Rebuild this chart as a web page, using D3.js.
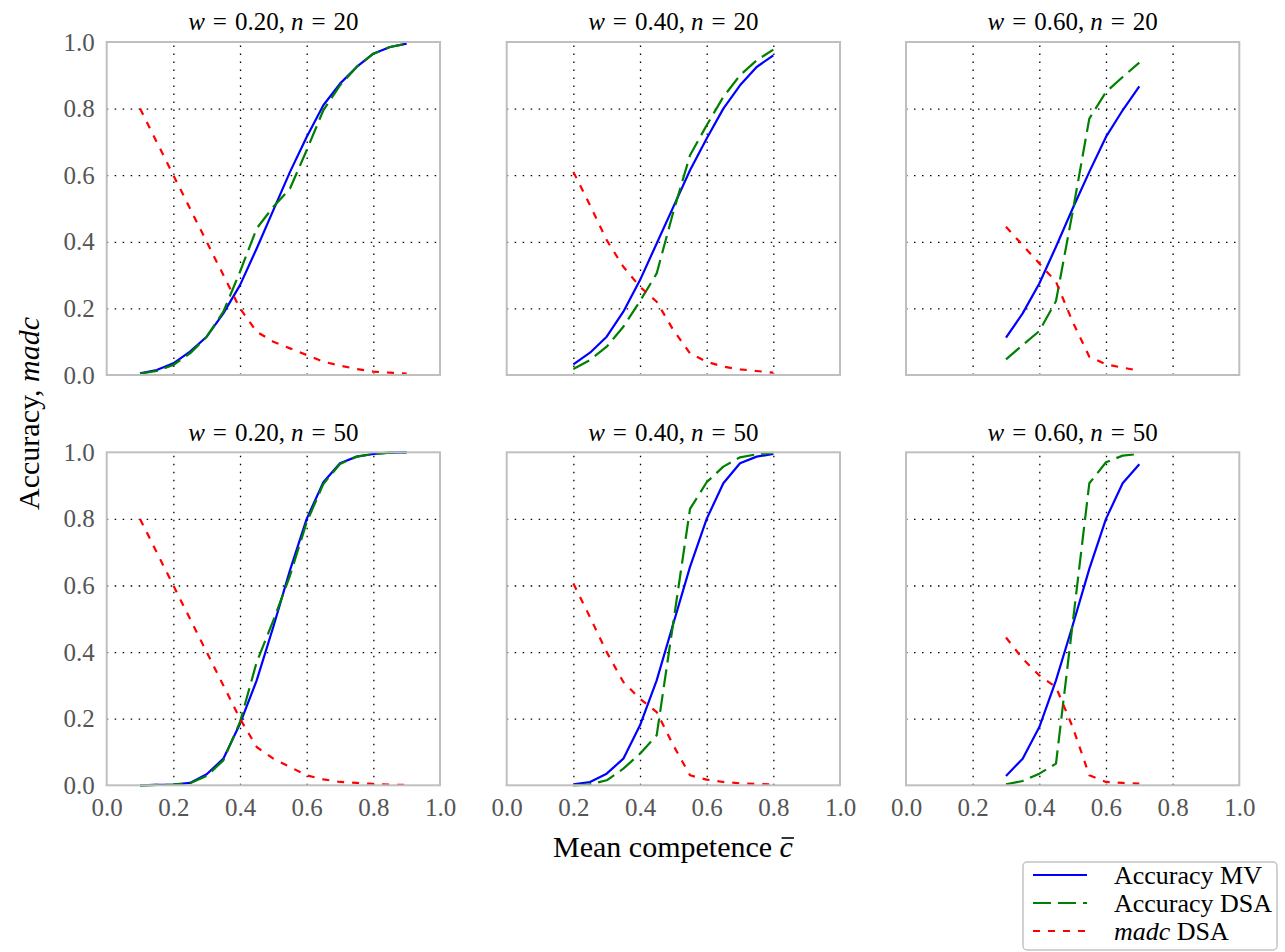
<!DOCTYPE html>
<html>
<head>
<meta charset="utf-8">
<script src="https://cdn.jsdelivr.net/npm/d3@7"></script>
<style>
  body { margin: 0; background: #fff; }
  svg { display: block; }
  text { font-family: "Liberation Serif", "Times New Roman", Times, serif; }
</style>
</head>
<body>
<svg id="fig" width="1285" height="952"></svg>
<script>
// ---- competence grids (mean competence c̄) ----
const cW20 = [0.10, 0.15, 0.20, 0.25, 0.30, 0.35, 0.40, 0.45, 0.50, 0.55, 0.60, 0.65, 0.70, 0.75, 0.80, 0.85, 0.90];
const cW40 = [0.20, 0.25, 0.30, 0.35, 0.40, 0.45, 0.50, 0.55, 0.60, 0.65, 0.70, 0.75, 0.80];
const cW60 = [0.30, 0.35, 0.40, 0.45, 0.50, 0.55, 0.60, 0.65, 0.70];

// ---- n = 20 ----
const mvW20N20   = [0.005, 0.015, 0.035, 0.070, 0.115, 0.185, 0.270, 0.380, 0.495, 0.610, 0.715, 0.810, 0.875, 0.925, 0.965, 0.985, 0.995];
const dsaW20N20  = [0.004, 0.012, 0.030, 0.065, 0.115, 0.190, 0.310, 0.440, 0.505, 0.560, 0.675, 0.795, 0.870, 0.925, 0.965, 0.985, 0.995];
const madcW20N20 = [0.800, 0.700, 0.600, 0.500, 0.400, 0.300, 0.200, 0.130, 0.100, 0.080, 0.060, 0.040, 0.028, 0.018, 0.010, 0.007, 0.004];

const mvW40N20   = [0.032, 0.067, 0.115, 0.190, 0.285, 0.395, 0.505, 0.615, 0.710, 0.800, 0.870, 0.925, 0.960];
const dsaW40N20  = [0.018, 0.045, 0.085, 0.145, 0.222, 0.305, 0.490, 0.660, 0.750, 0.835, 0.900, 0.945, 0.977];
const madcW40N20 = [0.610, 0.510, 0.405, 0.325, 0.265, 0.220, 0.135, 0.065, 0.040, 0.025, 0.017, 0.012, 0.007];

const mvW60N20   = [0.112, 0.185, 0.275, 0.385, 0.500, 0.610, 0.715, 0.795, 0.867];
const dsaW60N20  = [0.047, 0.090, 0.132, 0.222, 0.490, 0.770, 0.850, 0.895, 0.938];
const madcW60N20 = [0.445, 0.390, 0.335, 0.280, 0.160, 0.055, 0.032, 0.022, 0.013];

// ---- n = 50 ----
const mvW20N50   = [0.000, 0.001, 0.002, 0.007, 0.033, 0.080, 0.185, 0.315, 0.476, 0.646, 0.800, 0.910, 0.967, 0.987, 0.995, 0.999, 1.000];
const dsaW20N50  = [0.000, 0.001, 0.002, 0.006, 0.028, 0.075, 0.190, 0.370, 0.495, 0.630, 0.790, 0.905, 0.965, 0.987, 0.995, 0.999, 1.000];
const madcW20N50 = [0.800, 0.700, 0.600, 0.500, 0.400, 0.300, 0.200, 0.115, 0.080, 0.055, 0.030, 0.018, 0.010, 0.007, 0.004, 0.002, 0.001];

const mvW40N50   = [0.003, 0.010, 0.035, 0.080, 0.180, 0.315, 0.486, 0.656, 0.800, 0.907, 0.967, 0.987, 0.995];
const dsaW40N50  = [0.000, 0.003, 0.015, 0.050, 0.095, 0.150, 0.490, 0.830, 0.910, 0.957, 0.985, 0.994, 0.998];
const madcW40N50 = [0.606, 0.505, 0.400, 0.310, 0.260, 0.220, 0.120, 0.030, 0.017, 0.010, 0.006, 0.004, 0.002];

const mvW60N50   = [0.028, 0.080, 0.175, 0.315, 0.480, 0.650, 0.800, 0.907, 0.964];
const dsaW60N50  = [0.003, 0.013, 0.035, 0.065, 0.486, 0.907, 0.970, 0.990, 0.995];
const madcW60N50 = [0.444, 0.380, 0.330, 0.295, 0.175, 0.030, 0.010, 0.007, 0.005];

// ---- axis ticks ----
const tickVals   = [0.0, 0.2, 0.4, 0.6, 0.8, 1.0];
const tickLabels = ["0.0", "0.2", "0.4", "0.6", "0.8", "1.0"];
const gridVals   = [0.2, 0.4, 0.6, 0.8];

// ---- series ----
const seriesKeys  = ["mv", "dsa", "madc"];
const seriesNames = ["Accuracy MV", "Accuracy DSA", "madc DSA"];

const panels = [
  { w: "0.20", n: "20", c: cW20, mv: mvW20N20, dsa: dsaW20N20, madc: madcW20N20 },
  { w: "0.40", n: "20", c: cW40, mv: mvW40N20, dsa: dsaW40N20, madc: madcW40N20 },
  { w: "0.60", n: "20", c: cW60, mv: mvW60N20, dsa: dsaW60N20, madc: madcW60N20 },
  { w: "0.20", n: "50", c: cW20, mv: mvW20N50, dsa: dsaW20N50, madc: madcW20N50 },
  { w: "0.40", n: "50", c: cW40, mv: mvW40N50, dsa: dsaW40N50, madc: madcW40N50 },
  { w: "0.60", n: "50", c: cW60, mv: mvW60N50, dsa: dsaW60N50, madc: madcW60N50 }
];

const style = {
  mv:   { color: "#0000ff", dash: null,   width: 2.2 },
  dsa:  { color: "#008000", dash: "18,7", width: 2.2 },
  madc: { color: "#ff0000", dash: "7,8",  width: 2.2 }
};

const svg = d3.select("#fig");

const colLeft = [106.7, 506.7, 906];
const rowTop  = [42, 452.3];
const pw = 333.3, ph = 333;
const tickFont = 25;

panels.forEach((p, i) => {
  const col = i % 3, row = Math.floor(i / 3);
  const x0 = colLeft[col], y0 = rowTop[row];
  const x = d3.scaleLinear().domain([0, 1]).range([x0, x0 + pw]);
  const y = d3.scaleLinear().domain([0, 1]).range([y0 + ph, y0]);

  const g = svg.append("g");

  // dotted grid
  const gx = g.append("g")
    .attr("transform", `translate(0,${y0 + ph})`)
    .call(d3.axisBottom(x).tickValues(gridVals).tickSize(-ph).tickFormat(""));
  const gy = g.append("g")
    .attr("transform", `translate(${x0},0)`)
    .call(d3.axisLeft(y).tickValues(gridVals).tickSize(-pw).tickFormat(""));
  [gx, gy].forEach(a => {
    a.select(".domain").remove();
    a.selectAll("line").attr("stroke", "#000").attr("stroke-width", 1.3)
      .attr("stroke-dasharray", "1.5,6.5");
  });

  // tick labels on the outer axes only
  if (col === 0) {
    const ay = g.append("g").attr("transform", `translate(${x0},0)`)
      .call(d3.axisLeft(y).tickValues(tickVals).tickSize(0).tickPadding(12)
        .tickFormat((d, k) => tickLabels[k]));
    ay.select(".domain").remove();
    ay.selectAll("text").attr("font-size", tickFont).attr("fill", "#555")
      .style("font-family", '"Liberation Serif", serif');
  }
  if (row === 1) {
    const ax = g.append("g").attr("transform", `translate(0,${y0 + ph})`)
      .call(d3.axisBottom(x).tickValues(tickVals).tickSize(0).tickPadding(13)
        .tickFormat((d, k) => tickLabels[k]));
    ax.select(".domain").remove();
    ax.selectAll("text").attr("font-size", tickFont).attr("fill", "#555")
      .style("font-family", '"Liberation Serif", serif');
  }

  // curves
  seriesKeys.forEach(k => {
    const pts = p.c.map((c, j) => [c, p[k][j]]);
    const line = d3.line().x(d => x(d[0])).y(d => y(d[1]));
    g.append("path")
      .attr("d", line(pts))
      .attr("fill", "none")
      .attr("stroke", style[k].color)
      .attr("stroke-width", style[k].width)
      .attr("stroke-dasharray", style[k].dash)
      .attr("stroke-linejoin", "round");
  });

  // frame
  g.append("rect")
    .attr("x", x0).attr("y", y0).attr("width", pw).attr("height", ph)
    .attr("fill", "none").attr("stroke", "#bfbfbf").attr("stroke-width", 2);

  // title: w = …, n = …
  const t = g.append("text")
    .attr("x", x0 + pw / 2).attr("y", row === 0 ? 30 : 440.5)
    .attr("text-anchor", "middle").attr("font-size", 25).attr("fill", "#000");
  t.append("tspan").attr("font-style", "italic").text("w");
  t.append("tspan").attr("dx", 8).text("=");
  t.append("tspan").attr("dx", 8).text(p.w + ",");
  t.append("tspan").attr("dx", 6).attr("font-style", "italic").text("n");
  t.append("tspan").attr("dx", 8).text("=");
  t.append("tspan").attr("dx", 8).text(p.n);
});

// y axis label
const yl = svg.append("text")
  .attr("transform", "translate(39,413.5) rotate(-90)")
  .attr("text-anchor", "middle").attr("font-size", 30).attr("fill", "#000");
yl.append("tspan").text("Accuracy, ");
yl.append("tspan").attr("font-style", "italic").text("madc");

// x axis label with an overbar on c
const xl = svg.append("text")
  .attr("x", 673).attr("y", 857)
  .attr("text-anchor", "middle").attr("font-size", 30).attr("fill", "#000");
xl.append("tspan").text("Mean competence ");
xl.append("tspan").attr("font-style", "italic").text("c");
{
  const node = xl.node();
  const ext = node.getExtentOfChar(node.getNumberOfChars() - 1);
  svg.append("line")
    .attr("x1", ext.x + 2).attr("x2", ext.x + ext.width + 1)
    .attr("y1", 838).attr("y2", 838)
    .attr("stroke", "#000").attr("stroke-width", 1.6);
}

// legend
const lg = svg.append("g");
lg.append("rect")
  .attr("x", 1023).attr("y", 862).attr("width", 254).attr("height", 88)
  .attr("rx", 4).attr("fill", "#fff").attr("stroke", "#c4c4c4").attr("stroke-width", 1.5);
seriesKeys.forEach((k, i) => {
  const cy = 875 + i * 28;
  lg.append("line")
    .attr("x1", 1033).attr("x2", 1087).attr("y1", cy).attr("y2", cy)
    .attr("stroke", style[k].color).attr("stroke-width", style[k].width)
    .attr("stroke-dasharray", style[k].dash);
  const tx = lg.append("text").attr("x", 1114).attr("y", cy + 8.5)
    .attr("font-size", 26).attr("fill", "#000");
  if (k === "madc") {
    tx.append("tspan").attr("font-style", "italic").text("madc");
    tx.append("tspan").text(" DSA");
  } else {
    tx.text(seriesNames[i]);
  }
});
</script>
</body>
</html>
